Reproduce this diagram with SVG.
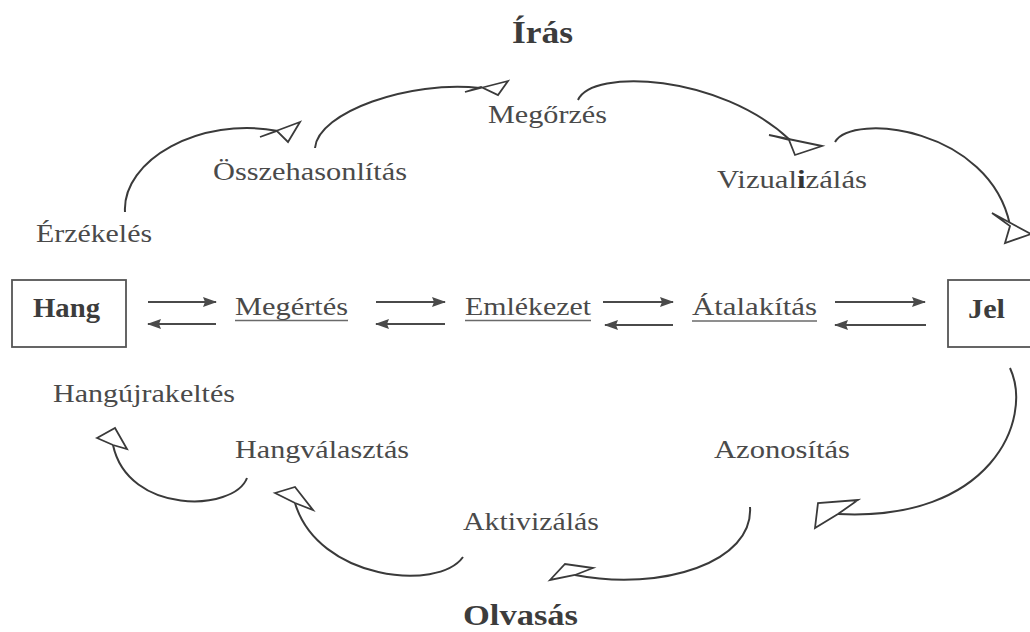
<svg xmlns="http://www.w3.org/2000/svg" width="1030" height="632" viewBox="0 0 1030 632">
<defs>
<style>
.t{font-family:"Liberation Serif","Times New Roman",serif;font-size:25px;fill:#4a4a4a}
.b{font-family:"Liberation Serif","Times New Roman",serif;font-weight:bold;fill:#3c3c3c}
.box{fill:none;stroke:#555;stroke-width:1.8}
.ul{stroke:#6a6a6a;stroke-width:1.6}
.arc{fill:none;stroke:#3a3a3a;stroke-width:2}
.head{fill:#fff;stroke:#3a3a3a;stroke-width:1.8;stroke-linejoin:miter}
.ar{stroke:#4a4a4a;stroke-width:2;fill:none}
</style>
<marker id="ah" markerUnits="userSpaceOnUse" markerWidth="14" markerHeight="12" refX="13" refY="5" orient="auto">
<path d="M0,0 L14,5 L0,10 L2,5 z" fill="#4a4a4a"/>
</marker>
</defs>
<rect width="1030" height="632" fill="#fff"/>

<g id="titles">
<text class="b" x="512" y="43" font-size="31" textLength="61" lengthAdjust="spacingAndGlyphs">Írás</text>
<text class="b" x="463" y="625" font-size="30" textLength="115" lengthAdjust="spacingAndGlyphs">Olvasás</text>
</g>

<g id="node-hang">
<rect class="box" x="12" y="280" width="114" height="67"/>
<text class="b" x="33" y="317" font-size="27" textLength="67" lengthAdjust="spacingAndGlyphs">Hang</text>
</g>
<g id="node-jel">
<rect class="box" x="948" y="280" width="84" height="67"/>
<text class="b" x="968" y="318" font-size="27" textLength="37" lengthAdjust="spacingAndGlyphs">Jel</text>
</g>
<g id="node-megertes">
<text class="t" x="235" y="315" textLength="113" lengthAdjust="spacingAndGlyphs">Megértés</text>
<line class="ul" x1="235" y1="320.5" x2="348" y2="320.5"/>
</g>
<g id="node-emlekezet">
<text class="t" x="465" y="315" textLength="126" lengthAdjust="spacingAndGlyphs">Emlékezet</text>
<line class="ul" x1="465" y1="320.5" x2="591" y2="320.5"/>
</g>
<g id="node-atalakitas">
<text class="t" x="692" y="315" textLength="125" lengthAdjust="spacingAndGlyphs">Átalakítás</text>
<line class="ul" x1="692" y1="321" x2="817" y2="321"/>
</g>
<g id="node-erzekeles"><text class="t" x="36" y="242" textLength="116" lengthAdjust="spacingAndGlyphs">Érzékelés</text></g>
<g id="node-osszehasonlitas"><text class="t" x="213" y="180" textLength="194" lengthAdjust="spacingAndGlyphs">Összehasonlítás</text></g>
<g id="node-megorzes"><text class="t" x="488" y="123" textLength="119" lengthAdjust="spacingAndGlyphs">Megőrzés</text></g>
<g id="node-vizualizalas"><text class="t" x="717" y="188" textLength="150" lengthAdjust="spacingAndGlyphs">Vizual<tspan font-weight="bold" fill="#333">i</tspan>zálás</text></g>
<g id="node-hangujrakeltes"><text class="t" x="53" y="402" textLength="182" lengthAdjust="spacingAndGlyphs">Hangújrakeltés</text></g>
<g id="node-hangvalasztas"><text class="t" x="235" y="458" textLength="174" lengthAdjust="spacingAndGlyphs">Hangválasztás</text></g>
<g id="node-azonositas"><text class="t" x="714" y="458" textLength="136" lengthAdjust="spacingAndGlyphs">Azonosítás</text></g>
<g id="node-aktivizalas"><text class="t" x="463" y="530" textLength="136" lengthAdjust="spacingAndGlyphs">Aktivizálás</text></g>

<g id="connectors">
<line class="ar" x1="148" y1="302" x2="216" y2="302" marker-end="url(#ah)"/>
<line class="ar" x1="216" y1="324" x2="148" y2="324" marker-end="url(#ah)"/>
<line class="ar" x1="376" y1="302" x2="445" y2="302" marker-end="url(#ah)"/>
<line class="ar" x1="445" y1="324" x2="376" y2="324" marker-end="url(#ah)"/>
<line class="ar" x1="603" y1="302" x2="673" y2="302" marker-end="url(#ah)"/>
<line class="ar" x1="673" y1="325" x2="605" y2="325" marker-end="url(#ah)"/>
<line class="ar" x1="835" y1="302" x2="925" y2="302" marker-end="url(#ah)"/>
<line class="ar" x1="926" y1="325" x2="835" y2="325" marker-end="url(#ah)"/>

<path class="arc" d="M125,212 C122,160 200,116 278,131"/>
<polygon class="head" points="300,122 260,137 277,131 288,142"/>
<path class="arc" d="M315,148 C318,112 410,80 480,88"/>
<polygon class="head" points="508,81 465,92 481,87 498,95"/>
<path class="arc" d="M578,100 C592,68 720,74 790,140"/>
<polygon class="head" points="822,146 769,135 789,140 795,155"/>
<path class="arc" d="M835,142 C852,112 990,128 1010,225"/>
<polygon class="head" points="1031,234 992,213 1010,226 1005,243"/>

<path class="arc" d="M1010,368 C1034,420 990,522 838,514"/>
<polygon class="head" points="815,528 818,503 858,500 838,514"/>
<path class="arc" d="M750,507 C754,562 662,592 575,575"/>
<polygon class="head" points="550,580 565,564 593,568 575,575"/>
<path class="arc" d="M463,557 C438,592 318,580 295,503"/>
<polygon class="head" points="275,493 295,487 313,510 295,503"/>
<path class="arc" d="M247,478 C234,512 128,515 113,445"/>
<polygon class="head" points="97,438 115,428 127,449 113,445"/>
</g>
</svg>
